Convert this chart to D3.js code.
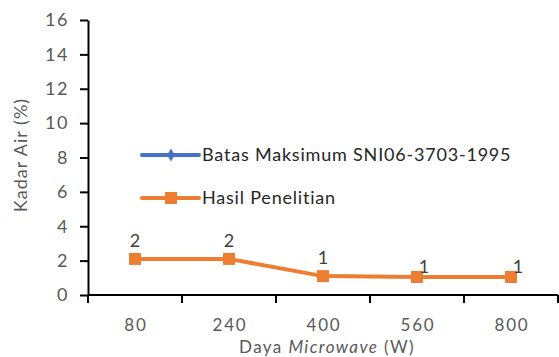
<!DOCTYPE html>
<html>
<head>
<meta charset="utf-8">
<script src="https://cdn.jsdelivr.net/npm/d3@7"></script>
<style>
  body { margin: 0; background: #fff; }
  text { font-family: Lato, "Open Sans", sans-serif; }
</style>
</head>
<body>
<div id="chart"></div>
<script>
// chart data
var categories = ["80", "240", "400", "560", "800"];
var hasilValues = [2.1, 2.1, 1.1, 1.05, 1.05];
var hasilLabels = ["2", "2", "1", "1", "1"];
var yTicks = [0, 2, 4, 6, 8, 10, 12, 14, 16];
var seriesNames = ["Batas Maksimum SNI06-3703-1995", "Hasil Penelitian"];

var width = 559,
    height = 357,
    margin = {top: 20, right: 1, bottom: 62, left: 88};

var svg = d3.select("#chart")
  .append("svg")
    .attr("width", width)
    .attr("height", height);

var x = d3.scaleBand()
  .domain(categories)
  .range([margin.left, width - margin.right]);

var y = d3.scaleLinear()
  .domain([0, 16])
  .range([height - margin.bottom, margin.top]);

// y axis
var yAxis = svg.append("g")
  .attr("transform", "translate(" + margin.left + ",0)")
  .call(d3.axisLeft(y).tickValues(yTicks).tickSize(8).tickPadding(11).tickSizeOuter(0));
yAxis.select(".domain").attr("stroke", "#000").attr("stroke-width", 2);
yAxis.selectAll(".tick line").attr("stroke", "#000").attr("stroke-width", 2);
yAxis.selectAll(".tick text")
  .attr("fill", "#595959")
  .style("font-size", "18px")
  .style("letter-spacing", "1.5px");

// x axis, ticks on category boundaries
var xAxis = svg.append("g")
  .attr("transform", "translate(0," + y(0) + ")");
xAxis.append("line")
  .attr("x1", margin.left)
  .attr("x2", width - margin.right)
  .attr("stroke", "#000")
  .attr("stroke-width", 2);
var bounds = categories.map(function(c) { return x(c); }).concat([x.range()[1]]);
xAxis.selectAll(".xtick")
  .data(bounds)
  .enter()
  .append("line")
  .attr("x1", function(d) { return d; })
  .attr("x2", function(d) { return d; })
  .attr("y1", 0)
  .attr("y2", 8)
  .attr("stroke", "#000")
  .attr("stroke-width", 2);
xAxis.selectAll(".xlabel")
  .data(categories)
  .enter()
  .append("text")
  .attr("x", function(d) { return x(d) + x.bandwidth() / 2 + 1; })
  .attr("y", 36)
  .attr("text-anchor", "middle")
  .attr("fill", "#595959")
  .style("font-size", "17px")
  .style("letter-spacing", "1.8px")
  .text(function(d) { return d; });

// axis titles
svg.append("text")
  .attr("transform", "translate(27,155) rotate(-90)")
  .attr("text-anchor", "middle")
  .attr("fill", "#595959")
  .style("font-size", "18px")
  .style("letter-spacing", "1px")
  .text("Kadar Air (%)");

var xt = svg.append("text")
  .attr("x", 327)
  .attr("y", 353)
  .attr("text-anchor", "middle")
  .attr("fill", "#595959")
  .style("font-size", "17px")
  .style("letter-spacing", "1.4px");
xt.append("tspan").text("Daya ");
xt.append("tspan").style("font-style", "italic").text("Microwave");
xt.append("tspan").text(" (W)");

// Hasil Penelitian line
var line = d3.line()
  .x(function(d, i) { return x(categories[i]) + x.bandwidth() / 2; })
  .y(function(d) { return y(d); });

svg.append("path")
  .datum(hasilValues)
  .attr("d", line)
  .attr("fill", "none")
  .attr("stroke", "#ED7D31")
  .attr("stroke-width", 4);

svg.selectAll(".pt")
  .data(hasilValues)
  .enter()
  .append("rect")
  .attr("x", function(d, i) { return x(categories[i]) + x.bandwidth() / 2 - 6; })
  .attr("y", function(d) { return y(d) - 6; })
  .attr("width", 12)
  .attr("height", 12)
  .attr("fill", "#ED7D31");

svg.selectAll(".lbl")
  .data(hasilValues)
  .enter()
  .append("text")
  .attr("x", function(d, i) { return x(categories[i]) + x.bandwidth() / 2 + (i > 2 ? 7 : 0); })
  .attr("y", function(d, i) { return y(d) - (i > 2 ? 4 : 12); })
  .attr("text-anchor", "middle")
  .attr("fill", "#404040")
  .style("font-size", "18px")
  .text(function(d, i) { return hasilLabels[i]; });

// legend
var legend = svg.append("g").attr("transform", "translate(142,155)");
var colors = ["#4472C4", "#ED7D31"];
seriesNames.forEach(function(name, i) {
  var g = legend.append("g").attr("transform", "translate(0," + i * 43 + ")");
  g.append("line")
    .attr("x1", 0).attr("x2", 57)
    .attr("stroke", colors[i])
    .attr("stroke-width", 4)
    .attr("stroke-linecap", "round");
  if (i == 0) {
    g.append("path")
      .attr("d", d3.symbol().type(d3.symbolDiamond).size(50))
      .attr("transform", "translate(29,0)")
      .attr("fill", colors[i]);
  } else {
    g.append("rect")
      .attr("x", 23).attr("y", -6)
      .attr("width", 12).attr("height", 12)
      .attr("fill", colors[i]);
  }
  g.append("text")
    .attr("x", 60)
    .attr("y", 0)
    .attr("dy", "0.35em")
    .attr("fill", "#262626")
    .style("font-size", "18px")
    .style("letter-spacing", "0.8px")
    .text(name);
});
</script>
</body>
</html>
